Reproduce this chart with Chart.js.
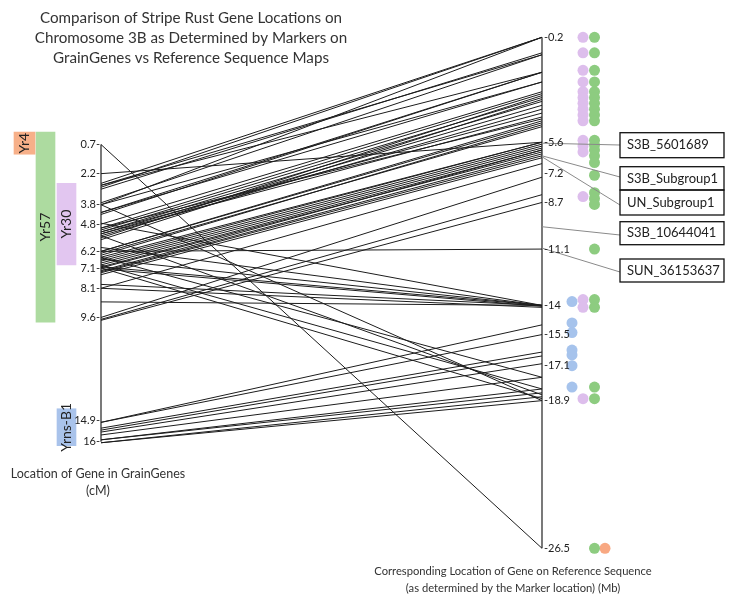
<!DOCTYPE html>
<html>
<head>
<meta charset="utf-8">
<script src="https://cdn.jsdelivr.net/npm/chart.js@4.4.0/dist/chart.umd.min.js"></script>
<style>
  html, body { margin: 0; padding: 0; background: #fff; }
  #wrap { width: 738px; height: 601px; }
</style>
</head>
<body>
<div id="wrap"><canvas id="chart" width="738" height="601"></canvas></div>
<script>
// each marker: position on GrainGenes map (cM) and on the reference sequence (Mb)
const linkCM = [
  2.7, 2.8, 2.9, 2.8, 3.8, 3.7, 3.8, 4.2, 4.2, 3.0, 4.3,
  4.8, 5.0, 5.1, 5.2, 5.3, 5.4, 5.2, 5.3, 6.2, 6.2, 6.3, 5.0, 5.5, 5.6, 6.4,
  2.2, 6.5, 6.6, 6.7, 6.8, 6.9, 7.0, 7.05, 7.25, 7.3, 7.4, 8.1, 7.2,
  9.6, 9.7, 9.75,
  6.2,
  4.75, 6.0, 6.6, 7.0, 7.1, 7.9, 8.1, 8.8,
  3.8, 5.4, 6.9, 7.05, 6.5,
  15.0, 15.0, 15.3, 15.4, 15.5, 15.65, 15.9, 15.9, 16.05, 16.05,
  0.7
];
const linkMb = [
  0.2, 1.1, 0.2, 2.0, 0.2, 1.1, 2.5, 2.0, 2.5, 1.0, 2.0,
  3.0, 3.1, 3.3, 3.5, 3.7, 3.9, 4.1, 4.3, 4.5, 4.6, 4.8, 4.4, 3.2, 3.4, 4.7,
  5.6, 5.6, 5.6, 5.7, 5.8, 5.9, 6.0, 6.1, 6.2, 6.3, 6.4, 6.7, 6.0,
  7.4, 8.3, 8.7,
  11.1,
  14.0, 14.0, 14.0, 14.0, 14.05, 14.0, 14.1, 14.0,
  18.9, 18.6, 18.3, 18.8, 17.7,
  15.0, 15.5, 16.4, 16.6, 17.0, 17.7, 18.3, 18.5, 18.9, 18.7,
  26.5
];

const leftTicks = [0.7, 2.2, 3.8, 4.8, 6.2, 7.1, 8.1, 9.6, 14.9, 16];
const rightTicks = [0.2, 5.6, 7.2, 8.7, 11.1, 14, 15.5, 17.1, 18.9, 26.5];

// resistance gene intervals on the GrainGenes map (cM)
const genes = ['Yr4', 'Yr57', 'Yr30', 'Yrns-B1'];
const geneStart = [0.06, 0.06, 2.7, 14.3];
const geneEnd = [1.2, 9.85, 6.9, 16.2];

// gene hits along the reference sequence (Mb)
const dotsBlue = [13.8, 14.9, 15.4, 16.3, 16.55, 17.1, 18.2];
const dotsPurple = [0.2, 1.0, 1.9, 2.5, 3.0, 3.3, 3.6, 3.9, 4.2, 4.5, 5.5, 5.8, 6.1, 8.4, 13.7, 14.1, 18.8];
const dotsGreen = [0.2, 1.0, 1.9, 2.5, 3.0, 3.3, 3.6, 3.9, 4.2, 4.5, 5.5, 5.75, 6.0, 6.3, 6.65, 7.3,
  8.2, 8.5, 8.8, 11.1, 13.7, 14.1, 18.2, 18.8, 26.5];
const dotsOrange = [26.5];

const markerNames = ['S3B_5601689', 'S3B_Subgroup1', 'UN_Subgroup1', 'S3B_10644041', 'SUN_36153637'];
const markerMb = [5.65, 6.3, 6.35, 9.95, 11.05];

// ---- layout (pixels of the 738x601 picture) ----
const W = 738, H = 601;
const AX_L = 101, AX_R = 542;
const UNIT = 19.43;           // px per cM / Mb
const MB_ZERO = 33.4;         // y of 0 Mb
const CM_ZERO = 130.9;        // y of 0 cM
const span = AX_R - AX_L;
const xMin = -AX_L / span, xMax = 1 + (W - AX_R) / span;
const mbMin = -MB_ZERO / UNIT, mbMax = (H - MB_ZERO) / UNIT;
const cmMin = -CM_ZERO / UNIT, cmMax = (H - CM_ZERO) / UNIT;
const px = v => (v - AX_L) / span;
const pyMb = v => (v - MB_ZERO) / UNIT;

const geneX = [px(24.5), px(45.5), px(66.5), px(66.5)];
const geneColors = ['#F7B089', '#ADDBA0', '#E2C6F0', '#A9C3EB'];
const col = { blue: px(572), purple: px(583), green: px(594.5), orange: px(605) };
const boxL = px(620), boxR = px(724);
const boxTop = [132.7, 166.7, 190, 221.7, 259].map(pyMb);
const boxBot = [157.7, 190, 215, 244.7, 282].map(pyMb);
const boxAnchor = [145, 177, 205, 235, 272].map(pyMb);

const datasets = [];

genes.forEach((g, i) => {
  datasets.push({
    type: 'bar', yAxisID: 'yC', grouped: false, barThickness: i === 0 ? 21 : 19,
    data: [{ x: geneX[i], y: [geneStart[i], geneEnd[i]] }],
    backgroundColor: geneColors[i], borderWidth: 0, label: g
  });
});

linkCM.forEach((c, i) => {
  datasets.push({
    type: 'line', yAxisID: 'yM',
    data: [{ x: 0, y: c + (CM_ZERO - MB_ZERO) / UNIT }, { x: 1, y: linkMb[i] }],
    borderColor: '#1c1c1c', borderWidth: 1, pointRadius: 0
  });
});

markerNames.forEach((m, i) => {
  datasets.push({
    type: 'line', yAxisID: 'yM',
    data: [{ x: 1, y: markerMb[i] }, { x: boxL, y: boxAnchor[i] }],
    borderColor: '#8a8a8a', borderWidth: 1, pointRadius: 0
  });
});

datasets.push({
  type: 'line', yAxisID: 'yC',
  data: [{ x: 0, y: leftTicks[0] }, { x: 0, y: leftTicks[leftTicks.length - 1] }],
  borderColor: '#222', borderWidth: 1.2, pointRadius: 0
});
datasets.push({
  type: 'line', yAxisID: 'yM',
  data: [{ x: 1, y: rightTicks[0] }, { x: 1, y: rightTicks[rightTicks.length - 1] }],
  borderColor: '#222', borderWidth: 1.2, pointRadius: 0
});

const dotSets = [[dotsBlue, '#A6C3EC', col.blue], [dotsPurple, '#DDBEEC', col.purple],
  [dotsGreen, '#8DCC80', col.green], [dotsOrange, '#F8A882', col.orange]];
dotSets.forEach(([vals, color, cx]) => {
  datasets.push({
    type: 'scatter', yAxisID: 'yM',
    data: vals.map(v => ({ x: cx, y: v })),
    backgroundColor: color, borderWidth: 0, pointRadius: 5.5
  });
});

const textLayer = {
  id: 'textLayer',
  afterDatasetsDraw(chart) {
    const { ctx, scales } = chart;
    const x = scales.x, yM = scales.yM, yC = scales.yC;
    ctx.save();
    ctx.fillStyle = '#222';
    ctx.textBaseline = 'middle';

    ctx.font = '11px Lato';
    ctx.textAlign = 'right';
    leftTicks.forEach(v => ctx.fillText(v + '-', x.getPixelForValue(0) - 1, yC.getPixelForValue(v)));
    ctx.textAlign = 'left';
    rightTicks.forEach(v => ctx.fillText('-' + v, x.getPixelForValue(1) + 2, yM.getPixelForValue(v)));

    // gene names inside the bars
    ctx.font = '14px Lato';
    ctx.textAlign = 'center';
    genes.forEach((g, i) => {
      const bar = chart.getDatasetMeta(i).data[0];
      ctx.save();
      ctx.translate(bar.x, (bar.y + bar.base) / 2);
      ctx.rotate(-Math.PI / 2);
      ctx.fillText(g, 0, 0);
      ctx.restore();
    });

    // marker boxes
    ctx.font = '13px Lato';
    ctx.textAlign = 'left';
    ctx.strokeStyle = '#111';
    ctx.lineWidth = 1.3;
    markerNames.forEach((m, i) => {
      const l = x.getPixelForValue(boxL), r = x.getPixelForValue(boxR);
      const t = yM.getPixelForValue(boxTop[i]), b = yM.getPixelForValue(boxBot[i]);
      ctx.strokeRect(l, t, r - l, b - t);
      ctx.fillText(m, l + 7, (t + b) / 2);
    });

    // titles
    ctx.textAlign = 'center';
    ctx.fillStyle = '#333';
    ctx.font = '15.2px Lato';
    ['Comparison of Stripe Rust Gene Locations on', 'Chromosome 3B as Determined by Markers on',
      'GrainGenes vs Reference Sequence Maps'].forEach((t, i) => ctx.fillText(t, 191, 18 + i * 20));
    ctx.font = '12.5px Lato';
    ctx.fillText('Location of Gene in GrainGenes', 98, 474);
    ctx.fillText('(cM)', 98, 491);
    ctx.font = '11.2px Lato';
    ctx.fillText('Corresponding Location of Gene on Reference Sequence', 513, 571);
    ctx.fillText('(as determined by the Marker location) (Mb)', 513, 588);
    ctx.restore();
  }
};

new Chart(document.getElementById('chart'), {
  type: 'scatter',
  data: { datasets },
  options: {
    responsive: false,
    animation: false,
    devicePixelRatio: 1,
    layout: { padding: 0, autoPadding: false },
    plugins: { legend: { display: false }, tooltip: { enabled: false }, title: { display: false } },
    scales: {
      x: { type: 'linear', min: xMin, max: xMax, display: false, offset: false },
      yM: { type: 'linear', min: mbMin, max: mbMax, reverse: true, display: false },
      yC: { type: 'linear', min: cmMin, max: cmMax, reverse: true, display: false }
    }
  },
  plugins: [textLayer]
});
</script>
</body>
</html>
